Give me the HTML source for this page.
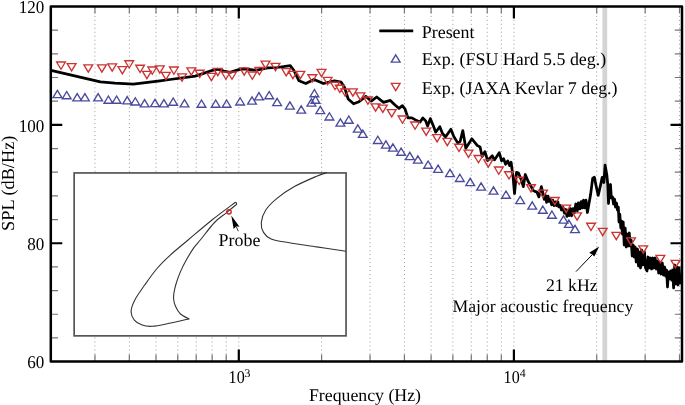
<!DOCTYPE html><html><head><meta charset="utf-8"><style>
html,body{margin:0;padding:0;background:#fff;width:685px;height:405px;overflow:hidden}
svg{display:block;will-change:transform}
text{font-family:"Liberation Serif",serif;fill:#000;text-rendering:geometricPrecision}
</style></head><body>
<svg width="685" height="405" viewBox="0 0 685 405">
<rect x="602.4" y="6.5" width="4.8" height="355.1" fill="#d4d4d4"/>
<path d="M94.96,6.5V361.6M129.33,6.5V361.6M155.99,6.5V361.6M177.77,6.5V361.6M196.19,6.5V361.6M212.14,6.5V361.6M226.21,6.5V361.6M238.80,6.5V361.6M321.61,6.5V361.6M370.06,6.5V361.6M404.43,6.5V361.6M431.09,6.5V361.6M452.87,6.5V361.6M471.29,6.5V361.6M487.24,6.5V361.6M501.31,6.5V361.6M513.90,6.5V361.6M596.71,6.5V361.6M645.16,6.5V361.6M679.53,6.5V361.6" stroke="#9a9a9a" stroke-width="1" stroke-dasharray="1 2.97" stroke-dashoffset="-1.46" fill="none"/>
<path d="M94.96,361.6v-7M94.96,6.5v7M129.33,361.6v-7M129.33,6.5v7M155.99,361.6v-7M155.99,6.5v7M177.77,361.6v-7M177.77,6.5v7M196.19,361.6v-7M196.19,6.5v7M212.14,361.6v-7M212.14,6.5v7M226.21,361.6v-7M226.21,6.5v7M321.61,361.6v-7M321.61,6.5v7M370.06,361.6v-7M370.06,6.5v7M404.43,361.6v-7M404.43,6.5v7M431.09,361.6v-7M431.09,6.5v7M452.87,361.6v-7M452.87,6.5v7M471.29,361.6v-7M471.29,6.5v7M487.24,361.6v-7M487.24,6.5v7M501.31,361.6v-7M501.31,6.5v7M596.71,361.6v-7M596.71,6.5v7M645.16,361.6v-7M645.16,6.5v7M679.53,361.6v-7M679.53,6.5v7M50.8,337.93h7.2M682.0,337.93h-7.2M50.8,314.25h7.2M682.0,314.25h-7.2M50.8,290.58h7.2M682.0,290.58h-7.2M50.8,266.91h7.2M682.0,266.91h-7.2M50.8,219.56h7.2M682.0,219.56h-7.2M50.8,195.89h7.2M682.0,195.89h-7.2M50.8,172.21h7.2M682.0,172.21h-7.2M50.8,148.54h7.2M682.0,148.54h-7.2M50.8,101.19h7.2M682.0,101.19h-7.2M50.8,77.52h7.2M682.0,77.52h-7.2M50.8,53.85h7.2M682.0,53.85h-7.2M50.8,30.17h7.2M682.0,30.17h-7.2" stroke="#777" stroke-width="1.2" fill="none"/>
<path d="M238.80,361.6v-12M238.80,6.5v12M513.90,361.6v-12M513.90,6.5v12M50.8,243.23h11.5M682.0,243.23h-11.5M50.8,124.87h11.5M682.0,124.87h-11.5" stroke="#000" stroke-width="2.2" fill="none"/>
<path d="M51.0,70.4 L100.4,81.9 L115.0,83.2 L133.3,84.2 L160.0,80.8 L170.0,79.5 L195.3,76.1 L203.5,73.4 L212.5,70.3 L217.8,69.2 L223.9,71.1 L230.0,72.4 L238.8,69.6 L244.0,68.8 L255.0,70.2 L258.0,69.9 L267.6,67.9 L277.1,67.5 L290.2,65.6 L293.6,70.0 L299.0,80.8 L305.8,83.5 L314.0,79.5 L323.5,83.5 L334.4,80.8 L341.2,82.2 L344.6,87.6 L348.2,99.0 L353.6,103.8 L359.0,101.7 L365.8,96.3 L371.3,101.1 L376.7,97.0 L383.5,102.4 L390.3,100.4 L395.0,105.0 L399.0,108.4 L402.4,105.7 L405.1,109.1 L407.9,117.9 L411.9,117.9 L416.7,120.6 L420.1,122.0 L422.8,117.9 L425.5,120.6 L427.6,126.1 L430.3,118.6 L433.7,126.7 L435.7,132.2 L439.8,126.7 L442.5,133.5 L445.5,137.0 L450.9,129.3 L453.6,136.1 L457.7,142.9 L460.1,141.5 L462.8,130.6 L465.8,148.3 L471.9,138.8 L477.4,145.6 L480.1,147.0 L482.1,156.5 L484.9,151.7 L487.6,160.5 L492.3,155.8 L494.4,159.9 L496.1,157.5 L499.2,152.7 L501.6,160.9 L503.6,158.8 L505.6,164.3 L507.7,160.9 L509.7,165.6 L511.1,162.2 L513.1,177.2 L514.5,193.5 L516.5,172.4 L518.5,173.1 L521.3,179.9 L523.3,186.7 L525.3,174.5 L528.1,181.3 L530.8,186.0 L533.5,190.8 L536.9,192.1 L538.9,196.9 L541.4,186.7 L543.0,193.6 L544.3,199.4 L545.6,195.5 L546.6,202.3 L548.0,196.1 L549.1,201.5 L550.4,199.2 L551.6,204.8 L552.7,200.2 L554.1,205.6 L555.5,201.8 L556.5,205.7 L557.8,201.7 L558.8,206.9 L560.1,205.4 L561.5,210.0 L563.0,207.3 L564.4,213.2 L565.8,209.5 L566.9,216.4 L568.0,210.1 L569.2,215.6 L570.4,208.7 L571.6,215.8 L572.9,208.7 L574.3,212.8 L575.8,204.0 L577.3,210.8 L578.3,202.8 L579.8,208.9 L581.1,201.7 L582.2,208.0 L583.5,200.1 L584.5,207.9 L586.0,200.1 L587.4,212.5 L590.6,194.6 L592.7,178.2 L594.4,177.3 L596.1,185.9 L598.2,195.4 L600.4,185.9 L602.2,177.3 L603.9,182.5 L605.1,165.2 L606.8,174.7 L607.8,185.0 L608.5,203.5 L609.6,188.0 L610.5,184.5 L611.3,198.0 L612.5,197.0 L613.5,204.0 L614.5,199.0 L615.5,207.0 L616.5,203.0 L617.5,210.0 L618.3,207.0 L619.0,222.0 L619.8,214.0 L620.8,228.0 L621.6,221.0 L622.4,234.0 L623.2,222.0 L624.2,245.0 L625.2,228.0 L626.2,247.0 L627.2,234.0 L628.2,246.0 L629.3,233.0 L630.3,246.0 L631.2,240.0 L632.2,256.0 L633.2,245.0 L634.2,257.0 L635.2,247.0 L636.2,262.0 L637.5,249.0 L638.5,266.0 L639.5,252.0 L640.5,268.0 L641.7,250.0 L643.0,265.0 L644.5,252.0 L645.5,268.0 L647.0,271.0 L648.0,257.0 L649.2,268.0 L650.4,258.0 L651.6,269.0 L652.8,258.0 L654.0,268.0 L655.2,258.0 L656.4,269.0 L657.5,261.0 L658.7,273.0 L659.9,262.0 L661.1,274.0 L662.3,263.0 L663.5,275.0 L664.6,267.0 L665.7,276.0 L666.6,270.0 L667.5,287.0 L668.4,272.0 L669.5,279.0 L670.6,271.0 L671.7,280.0 L672.6,270.0 L673.6,288.0 L674.7,265.0 L675.8,284.0 L676.9,267.0 L678.0,285.0 L679.1,268.0 L680.2,283.0 L680.9,276.0" stroke="#000" stroke-width="2.75" fill="none" stroke-linejoin="round"/>
<path d="M56.61,62.02H65.39L61.00,69.30ZM67.21,63.62H75.99L71.60,70.90ZM83.91,64.92H92.69L88.30,72.20ZM97.51,64.92H106.29L101.90,72.20ZM107.81,63.82H116.59L112.20,71.10ZM118.01,66.62H126.79L122.40,73.90ZM124.81,60.73H133.59L129.20,68.00ZM135.71,65.22H144.49L140.10,72.50ZM142.51,71.32H151.29L146.90,78.60ZM147.91,67.02H156.69L152.30,74.30ZM155.41,65.92H164.19L159.80,73.20ZM161.51,72.42H170.29L165.90,79.70ZM169.51,67.02H178.29L173.90,74.30ZM177.61,73.82H186.39L182.00,81.10ZM186.91,67.92H195.69L191.30,75.20ZM195.31,70.22H204.09L199.70,77.50ZM207.01,73.42H215.79L211.40,80.70ZM213.41,68.32H222.19L217.80,75.60ZM221.51,72.02H230.29L225.90,79.30ZM227.61,72.02H236.39L232.00,79.30ZM239.81,67.92H248.59L244.20,75.20ZM247.91,72.02H256.69L252.30,79.30ZM255.01,67.52H263.79L259.40,74.80ZM261.11,61.12H269.89L265.50,68.40ZM271.11,63.43H279.89L275.50,70.70ZM281.81,68.62H290.59L286.20,75.90ZM288.51,71.32H297.29L292.90,78.60ZM296.01,71.32H304.79L300.40,78.60ZM307.91,74.72H316.69L312.30,82.00ZM317.11,69.32H325.89L321.50,76.60ZM323.21,77.42H331.99L327.60,84.70ZM330.61,82.22H339.39L335.00,89.50ZM335.41,85.22H344.19L339.80,92.50ZM340.81,89.02H349.59L345.20,96.30ZM348.51,88.82H357.29L352.90,96.10ZM356.01,92.92H364.79L360.40,100.20ZM363.51,97.02H372.29L367.90,104.30ZM371.21,103.82H379.99L375.60,111.10ZM378.41,105.12H387.19L382.80,112.40ZM387.31,109.62H396.09L391.70,116.90ZM398.11,116.02H406.89L402.50,123.30ZM410.71,122.02H419.49L415.10,129.30ZM421.81,128.12H430.59L426.20,135.40ZM432.71,134.62H441.49L437.10,141.90ZM442.91,138.33H451.69L447.30,145.60ZM454.61,144.22H463.39L459.00,151.50ZM464.11,150.12H472.89L468.50,157.40ZM474.11,155.53H482.89L478.50,162.80ZM483.91,159.93H492.69L488.30,167.20ZM494.41,167.03H503.19L498.80,174.30ZM504.61,171.72H513.39L509.00,179.00ZM514.81,177.22H523.59L519.20,184.50ZM526.61,184.72H535.39L531.00,192.00ZM538.61,190.12H547.39L543.00,197.40ZM550.41,197.53H559.19L554.80,204.80ZM561.81,205.12H570.59L566.20,212.40ZM572.71,212.93H581.49L577.10,220.20ZM586.61,223.22H595.39L591.00,230.50ZM598.31,228.33H607.09L602.70,235.60ZM611.91,232.43H620.69L616.30,239.70ZM626.61,237.83H635.39L631.00,245.10ZM638.81,245.83H647.59L643.20,253.10ZM656.01,255.33H664.79L660.40,262.60ZM671.11,260.43H679.89L675.50,267.70Z" stroke="#cc3333" stroke-width="1.35" fill="none" stroke-linejoin="miter"/>
<path d="M53.01,97.58H61.79L57.40,90.30ZM62.31,98.78H71.09L66.70,91.50ZM72.81,100.88H81.59L77.20,93.60ZM80.51,100.88H89.29L84.90,93.60ZM93.71,100.88H102.49L98.10,93.60ZM104.01,103.28H112.79L108.40,96.00ZM112.21,103.28H120.99L116.60,96.00ZM122.81,103.88H131.59L127.20,96.60ZM130.91,104.98H139.69L135.30,97.70ZM140.21,106.88H148.99L144.60,99.60ZM150.61,106.68H159.39L155.00,99.40ZM159.51,106.88H168.29L163.90,99.60ZM168.81,105.28H177.59L173.20,98.00ZM180.11,106.88H188.89L184.50,99.60ZM197.11,107.28H205.89L201.50,100.00ZM211.31,107.28H220.09L215.70,100.00ZM222.21,107.28H230.99L226.60,100.00ZM235.71,104.98H244.49L240.10,97.70ZM247.61,104.18H256.39L252.00,96.90ZM254.61,99.88H263.39L259.00,92.60ZM264.81,98.78H273.59L269.20,91.50ZM272.71,105.58H281.49L277.10,98.30ZM285.51,109.18H294.29L289.90,101.90ZM296.81,113.08H305.59L301.20,105.80ZM307.01,106.18H315.79L311.40,98.90ZM310.01,96.78H318.79L314.40,89.50ZM311.11,103.28H319.89L315.50,96.00ZM315.91,113.58H324.69L320.30,106.30ZM325.01,119.98H333.79L329.40,112.70ZM336.01,126.08H344.79L340.40,118.80ZM344.41,123.28H353.19L348.80,116.00ZM353.41,132.17H362.19L357.80,124.90ZM358.41,137.38H367.19L362.80,130.10ZM373.41,143.47H382.19L377.80,136.20ZM381.51,148.17H390.29L385.90,140.90ZM388.51,151.17H397.29L392.90,143.90ZM396.71,155.28H405.49L401.10,148.00ZM405.41,159.57H414.19L409.80,152.30ZM413.51,163.07H422.29L417.90,155.80ZM423.71,168.28H432.49L428.10,161.00ZM433.71,172.38H442.49L438.10,165.10ZM445.61,176.67H454.39L450.00,169.40ZM455.41,181.47H464.19L459.80,174.20ZM465.81,185.67H474.59L470.20,178.40ZM476.71,190.07H485.49L481.10,182.80ZM489.11,194.17H497.89L493.50,186.90ZM501.61,198.28H510.39L506.00,191.00ZM515.81,203.67H524.59L520.20,196.40ZM527.81,209.17H536.59L532.20,201.90ZM538.41,213.28H547.19L542.80,206.00ZM547.51,218.28H556.29L551.90,211.00ZM559.11,223.07H567.89L563.50,215.80ZM564.51,227.38H573.29L568.90,220.10ZM570.61,232.57H579.39L575.00,225.30Z" stroke="#4b4b9e" stroke-width="1.35" fill="none" stroke-linejoin="miter"/>
<rect x="50.8" y="6.5" width="631.2" height="355.1" fill="none" stroke="#000" stroke-width="2.5" stroke-linejoin="round"/>
<rect x="74.15" y="172.95" width="271.9" height="162.9" fill="#fff" stroke="#555" stroke-width="1.7"/>
<path d="M235.40,202.30C231.50,205.25 219.88,213.72 212.00,220.00C204.12,226.28 195.10,234.12 188.10,240.00C181.10,245.88 175.18,250.55 170.00,255.30C164.82,260.05 161.25,263.50 157.00,268.50C152.75,273.50 148.20,280.05 144.50,285.30C140.80,290.55 137.03,295.63 134.80,300.00C132.57,304.37 131.18,308.15 131.10,311.50C131.02,314.85 132.45,317.83 134.30,320.10C136.15,322.37 139.23,324.07 142.20,325.10C145.17,326.13 147.57,326.60 152.10,326.30C156.63,326.00 163.23,324.53 169.40,323.30C175.57,322.07 185.82,319.63 189.10,318.90 L189.10,318.90C187.67,318.08 182.75,316.07 180.50,314.00C178.25,311.93 176.75,309.00 175.60,306.50C174.45,304.00 173.85,301.42 173.60,299.00C173.35,296.58 173.65,294.67 174.10,292.00C174.55,289.33 175.20,286.48 176.30,283.00C177.40,279.52 178.97,275.05 180.70,271.10C182.43,267.15 184.47,263.25 186.70,259.30C188.93,255.35 191.77,250.70 194.10,247.40C196.43,244.10 197.30,243.65 200.70,239.50C204.10,235.35 210.23,226.95 214.50,222.50C218.77,218.05 222.75,215.72 226.30,212.80C229.85,209.88 234.22,206.30 235.80,205.00 Q237.8,203.5 235.4,202.3" fill="none" stroke="#333" stroke-width="1.1" stroke-linejoin="round"/>
<path d="M326.70,172.60C325.03,173.20 322.08,173.87 316.70,176.20C311.32,178.53 301.07,182.87 294.40,186.60C287.73,190.33 281.50,194.67 276.70,198.60C271.90,202.53 268.17,206.23 265.60,210.20C263.03,214.17 261.65,218.70 261.30,222.40C260.95,226.10 261.87,229.62 263.50,232.40C265.13,235.18 267.80,237.53 271.10,239.10C274.40,240.67 275.70,240.50 283.30,241.80C290.90,243.10 306.25,245.32 316.70,246.90C327.15,248.48 341.12,250.57 346.00,251.30" fill="none" stroke="#333" stroke-width="1.1"/>
<circle cx="229" cy="211.8" r="2.2" fill="none" stroke="#d02828" stroke-width="1.45"/>
<path d="M231.3,215.6 L239.5,226.8 L236.3,226.3 L233.7,229 Z" fill="#000"/><path d="M236.2,226.5 L238.3,231.2" stroke="#000" stroke-width="0.8"/>
<text x="218.6" y="246.1" font-size="17.9">Probe</text>
<path d="M379.3,30.9H413.2" stroke="#000" stroke-width="2.6"/>
<path d="M391.31,62.08H400.09L395.70,54.80Z" fill="none" stroke="#4b4b9e" stroke-width="1.35"/>
<path d="M391.31,83.42H400.09L395.70,90.70Z" fill="none" stroke="#cc3333" stroke-width="1.35"/>
<text x="421.8" y="37.5" font-size="17.9">Present</text>
<text x="421.8" y="65.3" font-size="17.9">Exp. (FSU Hard 5.5 deg.)</text>
<text x="421.8" y="93.8" font-size="17.9">Exp. (JAXA Kevlar 7 deg.)</text>
<path d="M576,271.6 L592.3,254.6" stroke="#000" stroke-width="1"/>
<path d="M599.2,246.5 L589.2,252.8 L592.2,254.4 L594.3,256.6 Z" fill="#000"/>
<text x="546" y="291" font-size="17.7">21 kHz</text>
<text x="452.5" y="312.1" font-size="17.7">Major acoustic frequency</text>
<text transform="translate(44.2,12.9) scale(0.947,1)" font-size="18" text-anchor="end">120</text>
<text transform="translate(44.2,131.7) scale(0.947,1)" font-size="18" text-anchor="end">100</text>
<text transform="translate(44.2,250.0) scale(0.947,1)" font-size="18" text-anchor="end">80</text>
<text transform="translate(44.2,368.4) scale(0.947,1)" font-size="18" text-anchor="end">60</text>
<text transform="translate(228.6,382.8) scale(0.893,1)" font-size="18">10</text><text x="244.4" y="376.9" font-size="11.8">3</text>
<text transform="translate(503.6,382.8) scale(0.893,1)" font-size="18">10</text><text x="519.8" y="376.9" font-size="11.8">4</text>
<text x="365" y="400.7" font-size="17.8" text-anchor="middle">Frequency (Hz)</text>
<text transform="translate(13.9,183.3) rotate(-90)" font-size="18.3" text-anchor="middle">SPL (dB/Hz)</text>
</svg></body></html>
